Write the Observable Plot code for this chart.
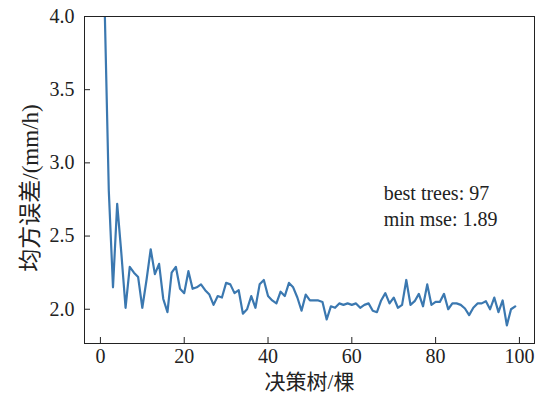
<!DOCTYPE html>
<html>
<head>
<meta charset="utf-8">
<script src="https://cdn.jsdelivr.net/npm/d3@7"></script>
<script src="https://cdn.jsdelivr.net/npm/@observablehq/plot@0.6"></script>
<style>
  html, body { margin: 0; padding: 0; background: #fff; }
</style>
</head>
<body>
<div id="chart"></div>
<script>
// number of trees (x) and mean squared error (y)
const trees = d3.range(1, 100);
const mse = [
  4.08, 2.81, 2.15, 2.72, 2.38, 2.01, 2.29, 2.25, 2.22, 2.01,
  2.20, 2.41, 2.24, 2.31, 2.07, 1.98, 2.25, 2.29, 2.14, 2.11,
  2.26, 2.14, 2.15, 2.17, 2.13, 2.10, 2.03, 2.09, 2.08, 2.18,
  2.17, 2.11, 2.13, 1.97, 2.00, 2.09, 2.01, 2.17, 2.20, 2.09,
  2.06, 2.04, 2.12, 2.09, 2.18, 2.15, 2.08, 1.99, 2.10, 2.06,
  2.06, 2.06, 2.05, 1.93, 2.02, 2.01, 2.04, 2.03, 2.04, 2.03,
  2.04, 2.01, 2.03, 2.04, 1.99, 1.98, 2.06, 2.11, 2.04, 2.08,
  2.01, 2.03, 2.20, 2.03, 2.055, 2.105, 2.02, 2.17, 2.03, 2.05,
  2.05, 2.105, 2.00, 2.04, 2.04, 2.03, 2.005, 1.96, 2.01, 2.04,
  2.04, 2.055, 2.00, 2.08, 1.98, 2.06, 1.89, 2.00, 2.02
];
const xTicks = [0, 20, 40, 60, 80, 100];
const yTicks = [2.0, 2.5, 3.0, 3.5, 4.0];
const xLabel = "决策树/棵";
const yLabel = "均方误差/(mm/h)";

const data = trees.map((t, i) => ({trees: t, mse: mse[i]}));
const bestIdx = d3.minIndex(mse);
const notes = [
  {text: `best trees: ${trees[bestIdx]}`, x: 67.6, y: 2.79},
  {text: `min mse: ${mse[bestIdx].toFixed(2)}`, x: 67.6, y: 2.613}
];

const W = 538, H = 397;
const mL = 84, mR = 4, mT = 16, mB = 54;
const frameW = W - mL - mR, frameH = H - mT - mB;
const ink = "#222";
const serif = "'Liberation Serif', 'Times New Roman', 'Noto Sans CJK SC', serif";

const chart = Plot.plot({
  width: W,
  height: H,
  marginLeft: mL,
  marginRight: mR,
  marginTop: mT,
  marginBottom: mB,
  style: {fontFamily: serif, fontSize: "20px", background: "#fff", color: ink},
  x: {domain: [-3.8, 103.6], label: null},
  y: {domain: [1.766, 4.0], label: null},
  marks: [
    Plot.line(data, {x: "trees", y: "mse", stroke: "#3b78b0", strokeWidth: 2.2, clip: true}),
    Plot.frame({stroke: ink, strokeWidth: 1}),
    Plot.tickX(xTicks, {x: d => d, insetTop: frameH - 6, stroke: ink}),
    Plot.tickY(yTicks, {y: d => d, insetRight: frameW - 6, stroke: ink}),
    Plot.axisX({ticks: xTicks, tickSize: 0, tickPadding: 5, fontSize: 20}),
    Plot.axisY({ticks: yTicks, tickSize: 0, tickPadding: 10, tickFormat: d3.format(".1f"), fontSize: 20}),
    Plot.text([xLabel], {frameAnchor: "bottom", textAnchor: "middle", dy: 39, lineAnchor: "middle", fontSize: 21, fill: ink}),
    Plot.text([yLabel], {frameAnchor: "left", textAnchor: "middle", rotate: -90, dx: -54, dy: 8, lineAnchor: "middle", fontSize: 23, fill: ink}),
    Plot.text(notes, {x: "x", y: "y", text: "text", textAnchor: "start", lineAnchor: "middle", fontSize: 20, fill: ink})
  ]
});
document.getElementById("chart").appendChild(chart);
</script>
</body>
</html>
